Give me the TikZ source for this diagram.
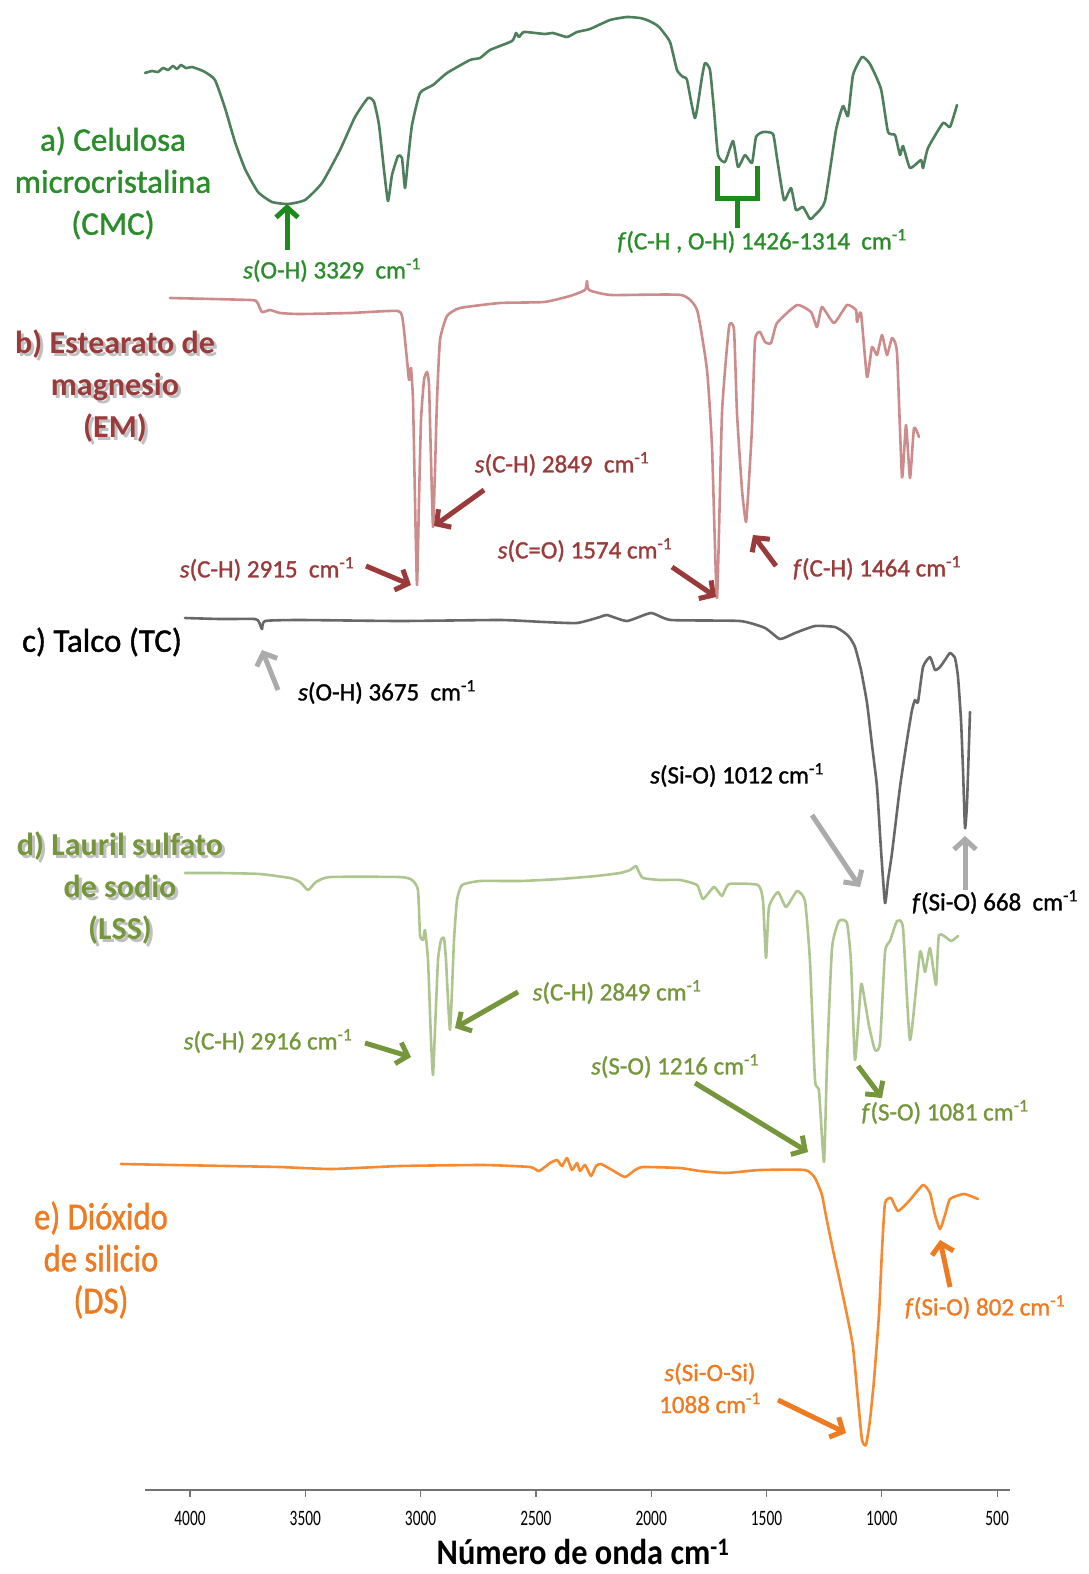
\documentclass[tikz,border=0pt]{standalone}
\usepackage{fontspec}
\setmainfont{Carlito}
\newfontfamily\medfont[FakeBold=1.2]{Carlito}
\usetikzlibrary{arrows.meta}
\definecolor{cmcline}{HTML}{4E7F5C}
\definecolor{cmctxt}{HTML}{2B8C2B}
\definecolor{cmcarr}{HTML}{1E8A1E}
\definecolor{emline}{HTML}{CC8C8C}
\definecolor{emtxt}{HTML}{9B3A3A}
\definecolor{tcline}{HTML}{686868}
\definecolor{tcarr}{HTML}{ABABAB}
\definecolor{lssline}{HTML}{AEC590}
\definecolor{lsstxt}{HTML}{76963C}
\definecolor{dsline}{HTML}{F58A30}
\definecolor{dstxt}{HTML}{EE7A22}
\tikzset{
    spec/.style = {line width=2.6pt, line join=round, line cap=round},
    ttl/.style = {align=center, inner sep=0pt, font=\medfont\fontsize{33}{42}\selectfont},
    ttlb/.style = {align=center, inner sep=0pt, font=\bfseries\fontsize{32}{42}\selectfont},
    shd/.style = {ttlb, text=black!55, opacity=0.45},
    ann/.style = {align=center, inner sep=0pt, font=\medfont\fontsize{25}{32}\selectfont},
    pk/.style = {line width=5pt, -{Straight Barb[length=10pt,width=22pt]}},
    ticklbl/.style = {inner sep=0pt, font=\fontsize{22}{24}\selectfont},
}
\newcommand{\icm}{cm\textsuperscript{-1}}
\newcommand{\narrow}[1]{\scalebox{0.86}[1]{#1}}

\begin{document}
\begin{tikzpicture}[x=1pt, y=-1pt]
\useasboundingbox (0,0) rectangle (1088,1574);
% ---- a) CMC
\draw[spec, cmcline] plot[smooth, tension=0.3] coordinates {
 (145,73) (152,71) (158,72) (163,68) (168,70) (173,66) (177,69) (181,65) (186,68) (192,67) (198,69) (205,72)
 (215,80) (225,108) (235,142) (245,169) (258,192) (272,202) (288,204) (305,200) (322,183) (340,150)
 (355,117) (368,98) (374,102) (379,125) (384,170) (388,201) (392,175) (398,156) (402,158) (405,188)
 (408,160) (412,125) (420,93) (433,85) (447,73) (470,60) (480,58) (490,50) (512,41) (516,33) (519,37)
 (524,32) (545,34) (553,33) (567,37) (577,32) (590,29) (610,20) (627,17) (640,18) (647,20) (655,24)
 (660,28) (670,42) (677,70) (683,77) (687,80) (695,118) (702,77) (705,63) (710,70) (714,110)
 (718,155) (725,162) (733,141)
 (738,167) (745,155) (752,163) (756,137) (763,132) (773,134) (777,158) (784,200) (791,188) (796,210)
 (803,207) (810,219) (815,215) (825,201) (836,130) (843,106) (848,116) (853,75) (862,57) (870,64)
 (881,89) (888,132) (895,135) (900,155) (903,146) (910,168) (921,160) (923,168) (928,148) (943,123)
 (950,127) (957,105)};
\node[ttl, text=cmctxt] at (113,183) (cmc) {a) Celulosa\\microcristalina\\(CMC)};
\coordinate (ohT) at (287,250);
\coordinate (ohP) at (287,204);
\draw[pk, cmcarr] (ohT) -- (ohP);
\node[ann, text=cmctxt] at (332,270) (ohL) {\textit{s}(O-H) 3329\ \ \icm};
\coordinate (brA) at (717,166);
\coordinate (brB) at (717,198);
\coordinate (brC) at (757,198);
\coordinate (brD) at (757,166);
\coordinate (brM) at (737,198);
\coordinate (brS) at (737,228);
\draw[line width=5pt, cmcarr] (brA) -- (brB) -- (brC) -- (brD);
\draw[line width=5pt, cmcarr] (brM) -- (brS);
\node[ann, text=cmctxt] at (762,241) (chL) {\textit{f}(C-H , O-H) 1426-1314\ \ \icm};
% ---- b) EM
\draw[spec, emline] plot[smooth, tension=0.3] coordinates {
 (170,298) (250,300) (257,302) (262,312) (270,310) (280,313) (300,314) (350,313) (398,311) (403,322)
 (407,360) (409,380) (411,368) (413,400) (415,500) (417,585) (419,500) (421,420) (424,380) (427,372)
 (429,385) (431,460) (433,527) (435,470) (437,400) (440,340) (447,316) (460,308) (500,303) (544,302)
 (570,296) (585,290) (587,281) (589,290) (611,295) (681,295) (697,310) (707,370) (712,447) (717,598)
 (722,413) (729,327) (734,330) (737,413) (742,490) (746,522) (749,480) (752,427) (755,340) (760,332)
 (765,342) (771,343) (777,323) (797,305) (811,312) (817,327) (822,307) (834,323) (847,305) (856,310)
 (857,322) (861,313) (867,377) (872,347) (877,355) (882,335) (887,355) (892,338) (897,353) (902,477)
 (906,425) (910,478) (914,428) (919,437)};
\node[shd] at (118,389) {b) Estearato de\\magnesio\\(EM)};
\node[ttlb, text=emtxt] at (115,386) (em) {b) Estearato de\\magnesio\\(EM)};
\node[ann, text=emtxt] at (562,464) (ch1L) {\textit{s}(C-H) 2849\ \ \icm};
\coordinate (ch1T) at (484,490);
\coordinate (ch1P) at (434,526);
\draw[pk, emtxt] (ch1T) -- (ch1P);
\node[ann, text=emtxt] at (267,569) (ch2L) {\textit{s}(C-H) 2915\ \ \icm};
\coordinate (ch2T) at (366,566);
\coordinate (ch2P) at (411,585);
\draw[pk, emtxt] (ch2T) -- (ch2P);
\node[ann, text=emtxt] at (585,550) (coL) {\textit{s}(C=O) 1574 \icm};
\coordinate (coT) at (672,567);
\coordinate (coP) at (716,597);
\draw[pk, emtxt] (coT) -- (coP);
\node[ann, text=emtxt] at (877,568) (ch3L) {\textit{f}(C-H) 1464 \icm};
\coordinate (ch3T) at (776,566);
\coordinate (ch3P) at (753,535);
\draw[pk, emtxt] (ch3T) -- (ch3P);
% ---- c) TC
\draw[spec, tcline] plot[smooth, tension=0.3] coordinates {
 (185,618) (220,619) (255,619) (259,622) (262,629) (265,621) (300,620) (400,621) (500,620) (544,622)
 (577,623) (600,617) (607,615) (627,621) (651,613) (671,620) (740,621) (765,628) (780,639) (795,633)
 (815,626) (835,627) (845,633) (850,638) (855,647) (861,670) (867,703) (872,745) (877,787) (881,850)
 (885,903) (888,880) (892,853) (900,787) (907,740) (912,710) (915,700) (918,702) (923,667) (930,657)
 (935,670) (940,667) (945,660) (950,653) (955,658) (958,677) (961,720) (963,770) (965,828) (967,803)
 (970,712)};
\node[ttl] at (102,642) (tc) {c) Talco (TC)};
\node[ann] at (387,692) (sohL) {\textit{s}(O-H) 3675\ \ \icm};
\coordinate (sohT) at (278,690);
\coordinate (sohP) at (262,650);
\draw[pk, tcarr] (sohT) -- (sohP);
\node[ann] at (737,775) (sioL) {\textit{s}(Si-O) 1012 \icm};
\coordinate (sioT) at (812,815);
\coordinate (sioP) at (860,887);
\draw[pk, tcarr] (sioT) -- (sioP);
\node[ann] at (995,902) (fsioL) {\textit{f}(Si-O) 668\ \ \icm};
\coordinate (fsioT) at (965,890);
\coordinate (fsioP) at (965,836);
\draw[pk, tcarr] (fsioT) -- (fsioP);
% ---- d) LSS
\draw[spec, lssline] plot[smooth, tension=0.3] coordinates {
 (185,873) (220,873) (260,874) (290,878) (300,882) (308,890) (316,882) (330,877) (400,877) (412,880)
 (418,890) (420,935) (423,940) (425,930) (428,960) (431,1040) (433,1075) (435,1030) (438,960) (441,940)
 (444,938) (446,960) (448,1000) (450,1030) (452,990) (454,940) (457,900) (462,885) (480,881) (520,881)
 (560,879) (596,876) (620,873) (630,870) (636,866) (639,872) (643,878) (660,880) (680,880) (697,885)
 (703,899) (714,887) (722,896) (729,884) (758,885) (763,901) (766,958) (769,907) (778,892) (786,907)
 (797,891) (805,901) (810,962) (815,1080) (819,1091) (824,1162) (827,1063) (832,948) (839,921)
 (847,923) (851,962) (855,1060) (861,985) (864,996) (869,1026) (875,1050) (880,1043) (885,952)
 (890,941) (897,921) (903,928) (910,1040) (920,952) (925,972) (930,948) (936,985) (939,935) (951,941)
 (958,936)};
\node[shd] at (123,891) {d) Lauril sulfato\\de sodio\\(LSS)};
\node[ttlb, text=lsstxt] at (120,888) (lss) {d) Lauril sulfato\\de sodio\\(LSS)};
\node[ann, text=lsstxt] at (268,1041) (dch1L) {\textit{s}(C-H) 2916 \icm};
\coordinate (dch1T) at (365,1043);
\coordinate (dch1P) at (411,1057);
\draw[pk, lsstxt] (dch1T) -- (dch1P);
\node[ann, text=lsstxt] at (617,992) (dch2L) {\textit{s}(C-H) 2849 \icm};
\coordinate (dch2T) at (518,992);
\coordinate (dch2P) at (455,1028);
\draw[pk, lsstxt] (dch2T) -- (dch2P);
\node[ann, text=lsstxt] at (675,1066) (soL) {\textit{s}(S-O) 1216 \icm};
\coordinate (soT) at (695,1083);
\coordinate (soP) at (808,1152);
\draw[pk, lsstxt] (soT) -- (soP);
\node[ann, text=lsstxt] at (945,1112) (fsoL) {\textit{f}(S-O) 1081 \icm};
\coordinate (fsoT) at (858,1066);
\coordinate (fsoP) at (882,1098);
\draw[pk, lsstxt] (fsoT) -- (fsoP);
% ---- e) DS
\draw[spec, dsline] plot[smooth, tension=0.3] coordinates {
 (121,1164) (175,1165) (228,1166) (280,1167) (332,1169) (400,1166) (484,1165) (530,1167) (539,1171)
 (550,1163) (557,1160) (562,1166) (567,1158) (572,1170) (577,1163) (580,1171) (585,1165) (591,1176)
 (596,1166) (601,1164) (612,1170) (625,1177) (635,1170) (643,1167) (680,1168) (700,1171) (726,1173)
 (760,1170) (805,1170) (815,1178) (822,1195) (826,1216) (833,1250) (840,1282) (847,1315) (853,1347)
 (858,1400) (862,1440) (866,1445) (870,1420) (874,1380) (879,1314) (882,1250) (885,1203) (891,1198)
 (898,1211) (909,1201) (923,1185) (930,1193) (935,1215) (940,1229) (945,1215) (950,1199) (964,1194)
 (978,1199)};
\node[ttl, font=\medfont\fontsize{38}{42}\selectfont, text=dstxt] at (101,1260) (ds)
  {\narrow{e) Dióxido}\\\narrow{de silicio}\\\narrow{(DS)}};
\node[ann, text=dstxt] at (985,1307) (fdsL) {\textit{f}(Si-O) 802 \icm};
\coordinate (fdsT) at (950,1287);
\coordinate (fdsP) at (940,1240);
\draw[pk, dstxt] (fdsT) -- (fdsP);
\node[ann, text=dstxt] at (710,1388) (sdsL) {\textit{s}(Si-O-Si)\\1088 \icm};
\coordinate (sdsT) at (778,1400);
\coordinate (sdsP) at (846,1433);
\draw[pk, dstxt] (sdsT) -- (sdsP);
% ---- axis
\coordinate (axL) at (145,1490);
\coordinate (axR) at (1010,1490);
\draw[line width=2pt, black!55] (axL) -- (axR);
\foreach \w [count=\k from 0] in {4000,3500,3000,2500,2000,1500,1000,500} {
  \draw[line width=1.2pt, black!55] (190+115.3*\k,1490) -- (190+115.3*\k,1497);
  \node[ticklbl] at (190+115.3*\k,1518) (t\k) {\scalebox{0.7}[1]{\w}};
}
\node[inner sep=0pt, font=\bfseries\fontsize{36}{36}\selectfont] at (583,1552) (xlab) {\scalebox{0.9}[1]{Número de onda \icm}};
\end{tikzpicture}
\end{document}
